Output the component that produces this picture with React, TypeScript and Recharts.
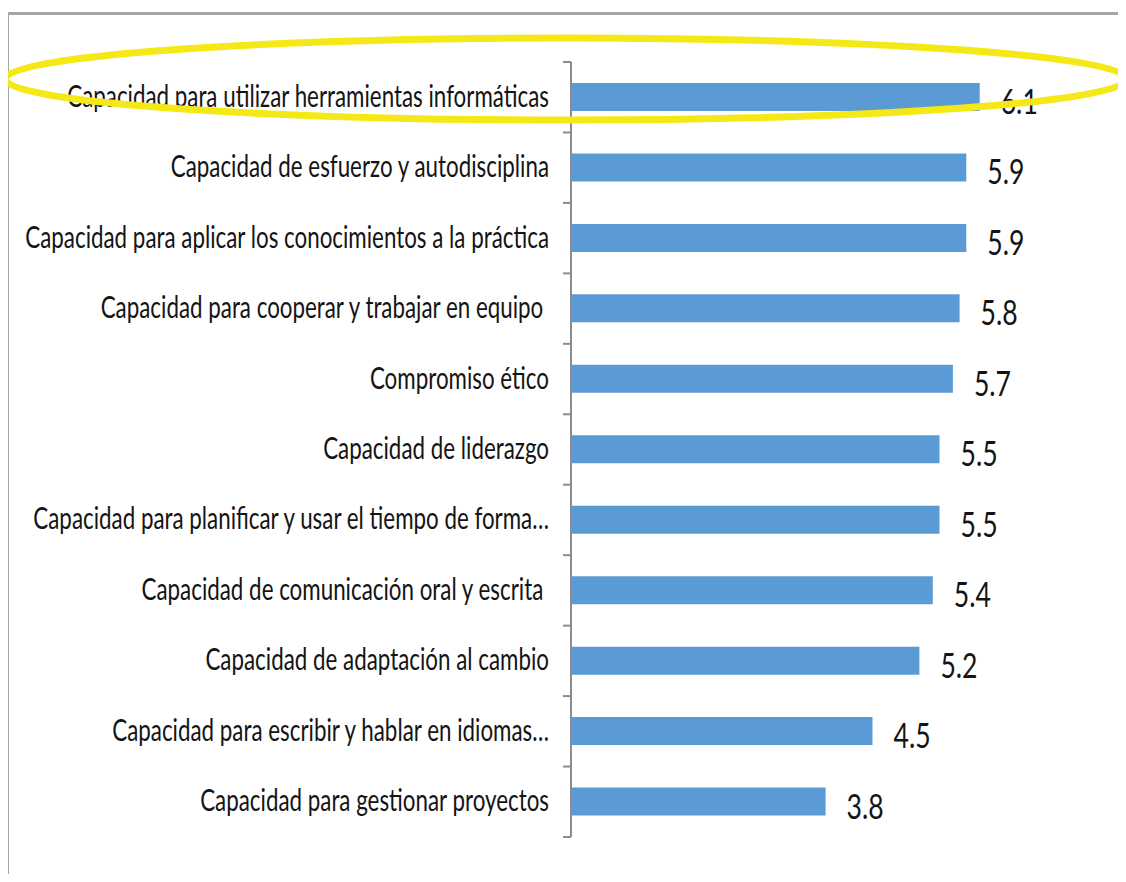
import React from 'react';
import { BarChart, Bar, XAxis, YAxis, LabelList } from 'recharts';

const categories = [
  'Capacidad para utilizar herramientas informáticas',
  'Capacidad de esfuerzo y autodisciplina',
  'Capacidad para aplicar los conocimientos a la práctica',
  'Capacidad para cooperar y trabajar en equipo ',
  'Compromiso ético',
  'Capacidad de liderazgo',
  'Capacidad para planificar y usar el tiempo de forma…',
  'Capacidad de comunicación oral y escrita ',
  'Capacidad de adaptación al cambio',
  'Capacidad para escribir y hablar en idiomas…',
  'Capacidad para gestionar proyectos',
];

const values = [6.1, 5.9, 5.9, 5.8, 5.7, 5.5, 5.5, 5.4, 5.2, 4.5, 3.8];

const valueLabels = ['6.1', '5.9', '5.9', '5.8', '5.7', '5.5', '5.5', '5.4', '5.2', '4.5', '3.8'];

const data = categories.map((name, i) => ({ name, value: values[i], label: valueLabels[i] }));

const FONT = 'Lato, "Liberation Sans", Arial, sans-serif';
const LABEL_SCALE_X = 0.71;
const VALUE_SCALE_X = 0.76;
const AXIS_GAP = 22;
const TICK_LEN = 8;
const AXIS_COLOR = '#8c8c8c';

function CategoryTick(props: any) {
  const { x, y, payload, index } = props;
  const half = payload && typeof payload.offset === 'number' && payload.offset > 0 ? payload.offset : 35.2;
  const axisX = x + AXIS_GAP;
  const isLast = index === categories.length - 1;
  return (
    <g>
      <line x1={axisX - TICK_LEN} x2={axisX} y1={y - half} y2={y - half} stroke={AXIS_COLOR} strokeWidth={2} />
      {isLast && (
        <line x1={axisX - TICK_LEN} x2={axisX} y1={y + half} y2={y + half} stroke={AXIS_COLOR} strokeWidth={2} />
      )}
      <text
        transform={`translate(${x},${y + 9.5}) scale(${LABEL_SCALE_X},1)`}
        textAnchor="end"
        fontSize={31.5}
        fontFamily={FONT}
        fill="#141414"
        style={{ whiteSpace: 'pre' }}
      >
        {payload.value}
      </text>
    </g>
  );
}

function ValueLabel(props: any) {
  const { x, y, width, height, index } = props;
  const tx = Number(x) + Number(width) + 21;
  const ty = Number(y) + Number(height) / 2 + 17;
  return (
    <text
      transform={`translate(${tx},${ty}) scale(${VALUE_SCALE_X},1)`}
      textAnchor="start"
      fontSize={35}
      fontFamily={FONT}
      fill="#141414"
    >
      {valueLabels[index]}
    </text>
  );
}

export default function App() {
  return (
    <div style={{ position: 'relative', width: 1126, height: 882, margin: -8, background: '#ffffff', overflow: 'hidden' }}>
      <div
        style={{
          position: 'absolute',
          left: 7,
          top: 12,
          width: 1140,
          height: 900,
          borderTop: '3px solid #a6a6a6',
          borderLeft: '2px solid #a6a6a6',
          boxSizing: 'border-box',
        }}
      />
      <div style={{ position: 'absolute', left: 0, top: 0 }}>
        <BarChart
          width={1126}
          height={882}
          data={data}
          layout="vertical"
          margin={{ top: 62, right: 86, bottom: 45, left: 0 }}
        >
          <XAxis type="number" domain={[0, 7]} hide />
          <YAxis
            type="category"
            dataKey="name"
            width={571}
            axisLine={{ stroke: AXIS_COLOR, strokeWidth: 2 }}
            tickLine={false}
            tickSize={0}
            tickMargin={AXIS_GAP}
            interval={0}
            tick={<CategoryTick />}
          />
          <Bar dataKey="value" fill="#5B9BD5" barSize={28} isAnimationActive={false}>
            <LabelList dataKey="value" content={<ValueLabel />} />
          </Bar>
        </BarChart>
      </div>
      <svg
        width={1126}
        height={882}
        style={{ position: 'absolute', left: 0, top: 0, pointerEvents: 'none' }}
      >
        <ellipse cx={566} cy={79} rx={561} ry={41} fill="none" stroke="#F4E916" strokeWidth={7} />
      </svg>
    </div>
  );
}
